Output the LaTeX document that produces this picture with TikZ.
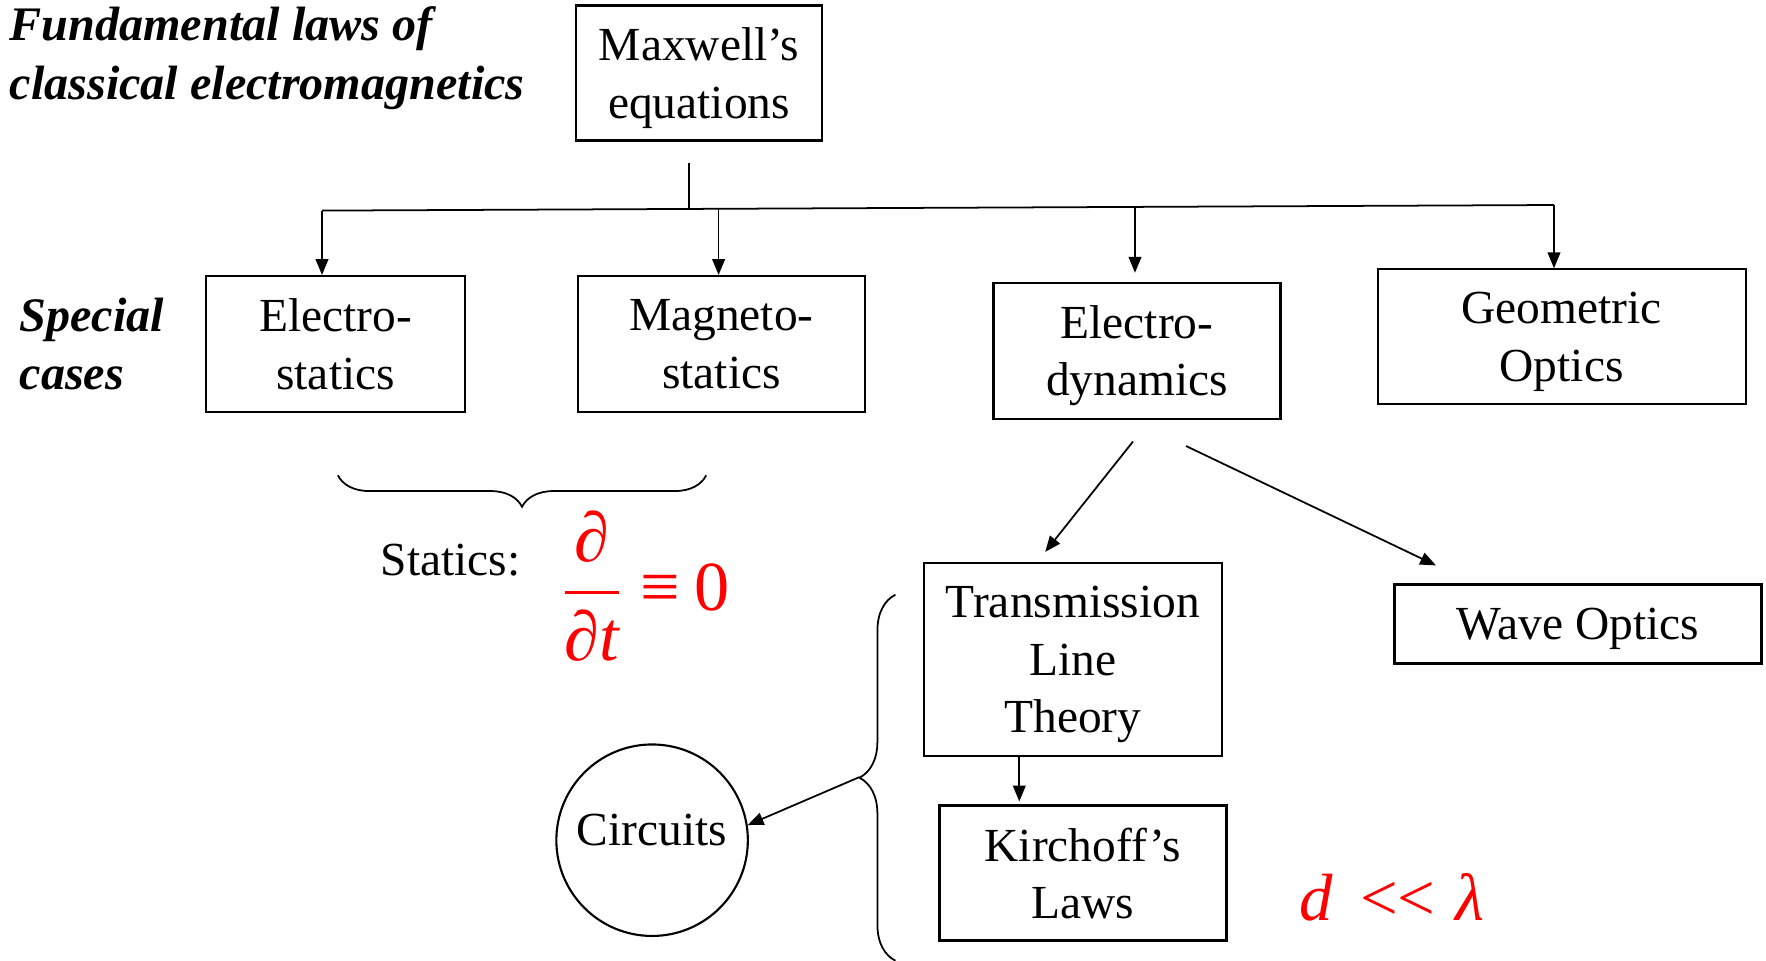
\documentclass[tikz,border=0pt]{standalone}
\usepackage{amsmath}
\usepackage{fontspec}
\setmainfont{Liberation Serif}
\usetikzlibrary{arrows.meta,decorations.pathreplacing}

\begin{document}
\begin{tikzpicture}[scale=1,
  box/.style={draw, line width=0.6pt, align=center, inner sep=2pt, text depth=0pt, font=\fontsize{13.5}{16.3}\selectfont},
  arr/.style={-{Triangle[length=4.5pt,width=3.6pt]}, line width=0.5pt},
  lbl/.style={align=left, inner sep=0pt, font=\fontsize{13.7}{16.7}\selectfont\bfseries\itshape}]
\useasboundingbox (0,0) rectangle (17.66,-9.61);
% headings
\node[lbl, anchor=west] (fund) at (0.09,-0.58) {Fundamental laws of\\classical electromagnetics};
\node[lbl, anchor=west] (spec) at (0.19,-3.44) {Special\\cases};
% boxes
\node[box, minimum width=2.46cm, minimum height=1.35cm] (max) at (6.99,-0.73) {Maxwell’s\\equations};
\node[box, minimum width=2.59cm, minimum height=1.36cm] (es) at (3.356,-3.44) {Electro-\\statics};
\node[box, minimum width=2.87cm, minimum height=1.36cm] (ms) at (7.214,-3.44) {Magneto-\\statics};
\node[box, minimum width=2.87cm, minimum height=1.36cm] (ed) at (11.37,-3.508) {Electro-\\dynamics};
\node[box, minimum width=3.68cm, minimum height=1.35cm] (go) at (15.616,-3.368) {Geometric\\Optics};
\node[box, minimum width=2.98cm, minimum height=1.93cm] (tl) at (10.728,-6.594) {Transmission\\Line\\Theory};
\node[box, minimum width=3.67cm, minimum height=0.79cm] (wo) at (15.78,-6.24) {Wave Optics};
\node[box, minimum width=2.87cm, minimum height=1.35cm] (kl) at (10.83,-8.73) {Kirchoff’s\\Laws};
\node[box, circle, text depth=5.8pt, minimum size=1.915cm, inner sep=0pt] (circ) at (6.521,-8.402) {Circuits};
% texts
\node[font=\fontsize{13.5}{16.3}\selectfont] (stat) at (4.505,-5.598) {Statics:};
\node[text=red, anchor=west, inner sep=0pt, font=\fontsize{20}{24}\selectfont] (deriv) at (5.60,-5.86) {$\dfrac{\text{\itshape ∂}}{\text{\itshape ∂t}}$\hspace{0.25em}≡\hspace{0.2em}0};
\node[text=red, inner sep=0pt, font=\fontsize{19}{23}\selectfont] (small) at (13.92,-8.977) {\textit{d}\hspace{0.4em}{<}{<}\hspace{0.3em}\textit{λ}};
% tree from Maxwell
\coordinate (stem) at (6.89,-1.63);
\coordinate (bus) at (6.89,-2.08);
\coordinate (busL) at (3.22,-2.106);
\coordinate (busR) at (15.54,-2.05);
\coordinate (bus2) at (7.186,-2.088);
\coordinate (bus3) at (11.35,-2.069);
\draw[line width=0.5pt] (stem) -- (bus);
\draw[line width=0.5pt] (busL) -- (busR);
\draw[arr] (busL) -- (busL |- es.north);
\draw[arr] (bus2) -- (bus2 |- ms.north);
\draw[arr] (bus3) -- ([yshift=0.09cm]bus3 |- ed.north);
\draw[arr] (busR) -- (busR |- go.north);
% from electrodynamics
\coordinate (ed1) at (11.33,-4.415);
\coordinate (ed2) at (11.86,-4.46);
\coordinate (tl-in) at (10.452,-5.519);
\coordinate (wo-in) at (14.36,-5.654);
\draw[arr] (ed1) -- (tl-in);
\draw[arr] (ed2) -- (wo-in);
\coordinate (k) at (10.193,-7.557);
\draw[arr] (k) -- ([yshift=0.03cm]k |- kl.north);
% braces
\draw[line width=0.5pt, decorate, decoration={brace, amplitude=0.315cm}] (7.062,-4.753) -- (3.379,-4.753);
\draw[line width=0.5pt, decorate, decoration={brace, amplitude=0.36cm}] (8.954,-9.607) -- (8.954,-5.947);
\coordinate (tip) at (8.594,-7.771);
\draw[arr] (tip) -- (circ.9);
\end{tikzpicture}
\end{document}
